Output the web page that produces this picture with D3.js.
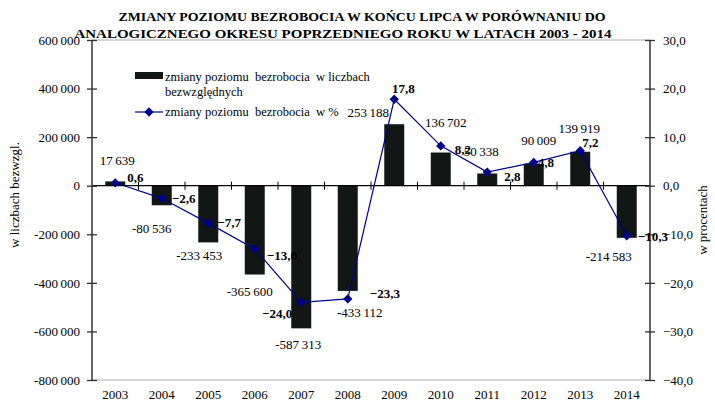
<!DOCTYPE html>
<html><head><meta charset="utf-8">
<script src="https://cdn.jsdelivr.net/npm/d3@7"></script>
<style>body{margin:0;background:#fff}svg{display:block}text{font-family:"Liberation Serif","Times New Roman",serif}</style>
</head><body><svg id="c" width="715" height="406"></svg>
<script>
const years = ["2003","2004","2005","2006","2007","2008","2009","2010","2011","2012","2013","2014"];
const absChange = [17639,-80536,-233453,-365600,-587313,-433112,253188,136702,50338,90009,139919,-214583];
const pctChange = [0.6,-2.6,-7.7,-13.0,-24.0,-23.3,17.8,8.2,2.8,4.8,7.2,-10.3];
const leftTicks = [600000,400000,200000,0,-200000,-400000,-600000,-800000];
const rightTicks = [30,20,10,0,-10,-20,-30,-40];
const titleLines = ["ZMIANY POZIOMU BEZROBOCIA W  KOŃCU  LIPCA W PORÓWNANIU  DO","ANALOGICZNEGO  OKRESU POPRZEDNIEGO  ROKU  W LATACH  2003 - 2014"];
const legendBar = ["zmiany poziomu  bezrobocia  w liczbach","bezwzględnych"];
const legendLine = "zmiany poziomu  bezrobocia  w %";
const leftTitle = "w liczbach bezwzgl.";
const rightTitle = "w procentach";

// label placement (layout only)
const barLblOff = [[2,-21],[-10,23],[-9,13],[-5,17],[-3,16],[12,22],[-26,-12],[5,-30],[-6,-22],[5,-23],[-1,-23],[-18,19]];
const pctLblOff = [["start",12,-5],["start",10,0],["start",9,-1],["start",12,7],["end",-9,11],["start",22,-5],["middle",9,-11],["start",14,4],["start",17,4],["start",4,0],["start",2,-8],["start",11,1]];

const svg = d3.select("#c");
const L = 92, R = 650, T = 40, B = 380;
const x = d3.scaleBand().domain(years).range([L,R]).paddingInner(0).paddingOuter(0);
const yL = d3.scaleLinear().domain([-800000,600000]).range([B,T]);
const yR = d3.scaleLinear().domain([-40,30]).range([B,T]);
const fmtAbs = v => { const s = d3.format(",")(Math.abs(v)).replace(/,/g,"\u2009"); return (v<0?"-":"")+s; };
const fmtAbsTick = v => { const s = d3.format(",")(Math.abs(v)).replace(/,/g,"\u2009"); return (v<0?"-":"")+s; };
const fmtPct = v => d3.format(".1f")(v).replace(".",",");

// gray frame lines
svg.append("line").attr("x1",L).attr("x2",R).attr("y1",T).attr("y2",T).attr("stroke","#c8c8c8").attr("stroke-width",1.5);
svg.append("line").attr("x1",L).attr("x2",R).attr("y1",B).attr("y2",B).attr("stroke","#c8c8c8").attr("stroke-width",1.5);

// bars
const bw = x.bandwidth()*0.43;
svg.append("g").selectAll("rect").data(absChange).join("rect")
  .attr("x",(d,i)=>x(years[i])+x.bandwidth()/2-bw/2)
  .attr("width",bw)
  .attr("y",d=>Math.min(yL(d),yL(0)))
  .attr("height",d=>Math.abs(yL(d)-yL(0)))
  .attr("fill","#121715");

// zero line + category ticks
const xAxis = d3.axisBottom(x).tickSize(0).tickFormat("");
svg.append("line").attr("x1",L).attr("x2",R).attr("y1",yL(0)).attr("y2",yL(0)).attr("stroke","#000").attr("stroke-width",1.2);
svg.append("g").selectAll("line").data(years.slice(1)).join("line")
  .attr("x1",d=>x(d)).attr("x2",d=>x(d)).attr("y1",yL(0)-4).attr("y2",yL(0)+4).attr("stroke","#000");

// year labels
svg.append("g").selectAll("text").data(years).join("text")
  .attr("x",d=>x(d)+x.bandwidth()/2).attr("y",399).attr("text-anchor","middle")
  .attr("font-size",13).attr("fill","#000").text(d=>d);

// left axis
const gl = svg.append("g").attr("transform",`translate(${L},0)`)
  .call(d3.axisLeft(yL).tickValues(leftTicks).tickSize(5).tickFormat(fmtAbsTick));
gl.select(".domain").attr("stroke","#333").attr("stroke-width",1.5).attr("d",`M0,${T}V${B}`);
gl.selectAll(".tick line").attr("x1",-5).attr("x2",5).attr("stroke","#333").attr("stroke-width",1.3);
gl.selectAll(".tick text").attr("x",-12).attr("font-size",13).attr("font-family","Liberation Serif").attr("fill","#000");

// right axis
const gr = svg.append("g").attr("transform",`translate(${R},0)`)
  .call(d3.axisRight(yR).tickValues(rightTicks).tickSize(5).tickFormat(fmtPct));
gr.select(".domain").attr("stroke","#333").attr("stroke-width",1.5).attr("d",`M0,${T}V${B}`);
gr.selectAll(".tick line").attr("x1",-5).attr("x2",5).attr("stroke","#333").attr("stroke-width",1.3);
gr.selectAll(".tick text").attr("x",13).attr("font-size",13).attr("font-family","Liberation Serif").attr("fill","#000");

// line
const cx = i => x(years[i])+x.bandwidth()/2;
const line = d3.line().x((d,i)=>cx(i)).y(d=>yR(d));
svg.append("path").datum(pctChange).attr("d",line).attr("fill","none").attr("stroke","#00008b").attr("stroke-width",1.2);
const diamond = d3.symbol().type(d3.symbolDiamond2).size(55);
svg.append("g").selectAll("path").data(pctChange).join("path")
  .attr("transform",(d,i)=>`translate(${cx(i)},${yR(d)})`).attr("d",diamond).attr("fill","#00008b");

// bar value labels
svg.append("g").selectAll("text").data(absChange).join("text")
  .attr("x",(d,i)=>cx(i)+barLblOff[i][0]).attr("y",(d,i)=>yL(d)+barLblOff[i][1]).attr("dy","0.35em")
  .attr("text-anchor","middle").attr("font-size",13).attr("fill","#000").text(fmtAbs);

// pct labels
svg.append("g").selectAll("text").data(pctChange).join("text")
  .attr("x",(d,i)=>cx(i)+pctLblOff[i][1]).attr("y",(d,i)=>yR(d)+pctLblOff[i][2]).attr("dy","0.35em")
  .attr("text-anchor",(d,i)=>pctLblOff[i][0]).attr("font-size",13).attr("font-weight","bold").attr("fill","#000").text(fmtPct);

// title
svg.append("text").attr("x",362).attr("y",21).attr("text-anchor","middle").attr("font-size",12.5).attr("font-weight","bold").attr("textLength",487).attr("lengthAdjust","spacingAndGlyphs").text(titleLines[0]);
svg.append("text").attr("x",343).attr("y",38).attr("text-anchor","middle").attr("font-size",12.5).attr("font-weight","bold").attr("textLength",537).attr("lengthAdjust","spacingAndGlyphs").text(titleLines[1]);

// legend
svg.append("rect").attr("x",135).attr("y",72).attr("width",28).attr("height",7).attr("fill","#121715");
svg.append("text").attr("x",165).attr("y",77).attr("dy","0.35em").attr("font-size",12.5).attr("xml:space","preserve").text(legendBar[0]);
svg.append("text").attr("x",165).attr("y",92).attr("dy","0.35em").attr("font-size",12.5).text(legendBar[1]);
svg.append("line").attr("x1",135).attr("x2",163).attr("y1",112).attr("y2",112).attr("stroke","#00008b").attr("stroke-width",1.2);
svg.append("path").attr("transform","translate(149,112)").attr("d",diamond).attr("fill","#00008b");
svg.append("text").attr("x",165).attr("y",112).attr("dy","0.35em").attr("font-size",12.5).attr("xml:space","preserve").text(legendLine);

// axis titles
svg.append("text").attr("transform","translate(19,195) rotate(-90)").attr("text-anchor","middle").attr("font-size",13).text(leftTitle);
svg.append("text").attr("transform","translate(707,220) rotate(-90)").attr("text-anchor","middle").attr("font-size",13).text(rightTitle);
</script></body></html>
